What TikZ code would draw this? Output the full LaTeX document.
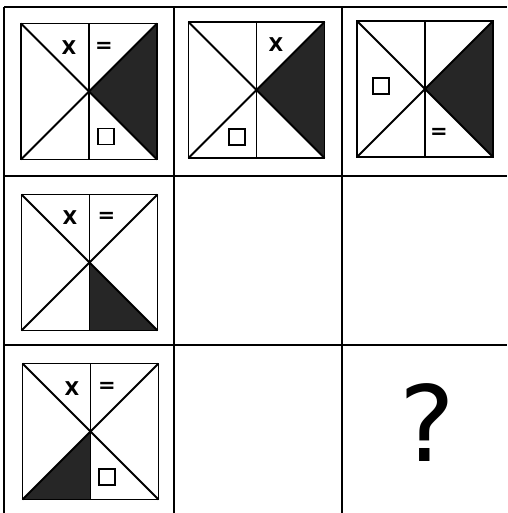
\documentclass[tikz,border=0pt]{standalone}
\usepackage{fontspec}
\usepackage{tikz}
\usetikzlibrary{calc}
\newfontfamily\symfont{DejaVu Sans}

\tikzset{
  grid line/.style={line width=2pt},
  frame/.style={line width=1.8pt},
  shade/.style={fill=black!85},
  sym/.style={font=\fontsize{19}{19}\symfont\bfseries, inner sep=0pt},
  eqsym/.style={font=\fontsize{21}{21}\symfont\bfseries, inner sep=0pt},
  boxsym/.style={draw, line width=1.5pt, minimum size=16pt, inner sep=0pt}
}

% one tile: name, centre, extra drawing inside
\newcommand{\tile}[3]{%
  \begin{scope}[shift={#2}]
    #3
    \draw[frame] (-68,-68) rectangle (68,68);
    \draw[frame] (-68,-68) -- (68,68);
    \draw[frame] (68,-68) -- (-68,68);
    \draw[frame] (0,-68) -- (0,68);
    \coordinate (#1) at (0,0);
  \end{scope}}

\begin{document}
\begin{tikzpicture}[x=1pt, y=-1pt]
  \useasboundingbox (0,0) rectangle (507,513);
  \fill[white] (0,0) rectangle (507,513);

  % grid
  \draw[grid line] (4,7) -- (507,7);
  \draw[grid line] (4,176) -- (507,176);
  \draw[grid line] (4,345) -- (507,345);
  \draw[grid line] (4,7) -- (4,513);
  \draw[grid line] (174,7) -- (174,513);
  \draw[grid line] (342,7) -- (342,513);

  % row 1
  \tile{t11}{(89,91.5)}{%
    \fill[shade] (0,0) -- (68,-68) -- (68,68) -- cycle;
    \node[sym] (x11) at (-20,-44) {X};
    \node[eqsym] (e11) at (15,-44) {=};
    \node[boxsym] (b11) at (17,45) {};}
  \tile{t12}{(256.5,90)}{%
    \fill[shade] (0,0) -- (68,-68) -- (68,68) -- cycle;
    \node[sym] (x12) at (19.5,-45) {X};
    \node[boxsym] (b12) at (-19.5,47) {};}
  \tile{t13}{(425,89)}{%
    \fill[shade] (0,0) -- (68,-68) -- (68,68) -- cycle;
    \node[boxsym] (b13) at (-44,-3) {};
    \node[eqsym] (e13) at (14,44) {=};}

  % row 2
  \tile{t21}{(89.5,262.5)}{%
    \fill[shade] (0,0) -- (0,68) -- (68,68) -- cycle;
    \node[sym] (x21) at (-19.5,-44.5) {X};
    \node[eqsym] (e21) at (17,-45) {=};}

  % row 3
  \tile{t31}{(90.5,431.5)}{%
    \fill[shade] (0,0) -- (0,68) -- (-68,68) -- cycle;
    \node[sym] (x31) at (-18.5,-42.5) {X};
    \node[eqsym] (e31) at (16.5,-44.5) {=};
    \node[boxsym] (b31) at (16.5,45.5) {};}

  \node[font=\fontsize{105}{105}\symfont, inner sep=0pt] (ask) at (427,423) {?};
\end{tikzpicture}
\end{document}
